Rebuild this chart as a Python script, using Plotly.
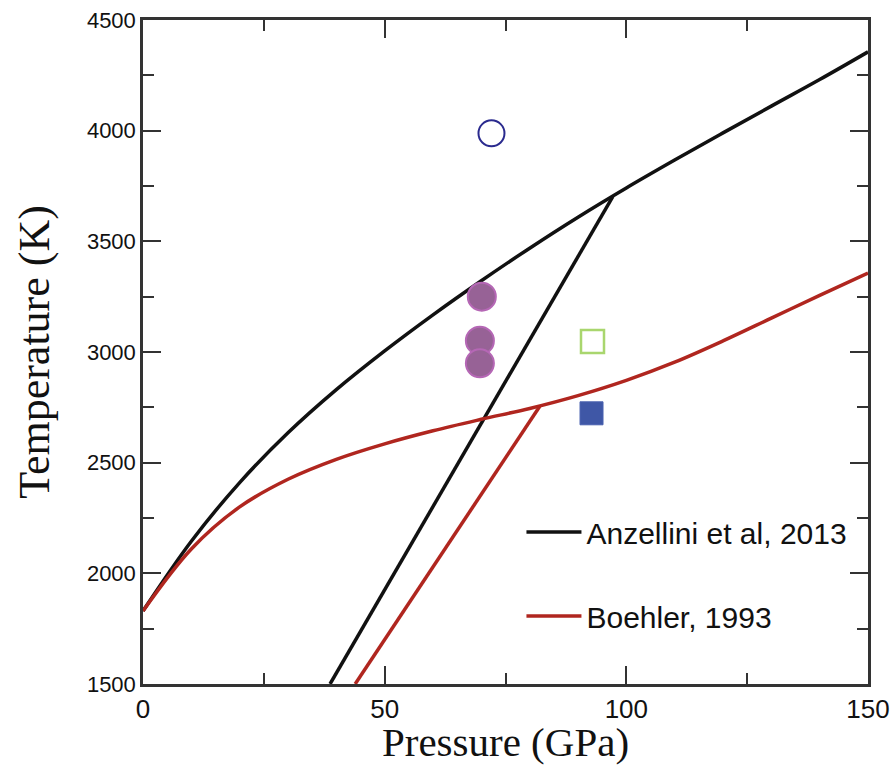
import plotly.graph_objects as go

# Melting curves
anz_p = [0, 10, 20, 30, 40, 50, 60, 70, 80, 90, 100, 110, 120, 130, 140, 150]
anz_t = [1830, 2145, 2410, 2635, 2830, 3005, 3168, 3322, 3469, 3609, 3741, 3867, 3990, 4111, 4231, 4356]

boe_p = [0, 10, 20, 30, 40, 50, 60, 70, 80, 90, 100, 110, 120, 130, 140, 150]
boe_t = [1830, 2110, 2300, 2425, 2515, 2585, 2644, 2696, 2745, 2803, 2872, 2954, 3050, 3153, 3256, 3357]

# Straight branches
anz_branch_p = [38.7, 97.2]
anz_branch_t = [1500, 3702]
boe_branch_p = [43.9, 82.1]
boe_branch_t = [1500, 2755]

# Experimental points
open_circle_p = [72.1]
open_circle_t = [3988]
purple_p = [70.1, 69.7, 69.7]
purple_t = [3250, 3051, 2949]
green_sq_p = [93.0]
green_sq_t = [3047]
blue_sq_p = [92.8]
blue_sq_t = [2723]

BLACK = "#111111"
RED = "#b0261f"

fig = go.Figure()

fig.add_trace(go.Scatter(x=anz_p, y=anz_t, mode="lines", name="Anzellini et al, 2013",
                         line=dict(color=BLACK, width=3.5, shape="spline", smoothing=1.0),
                         legendgroup="a"))
fig.add_trace(go.Scatter(x=anz_branch_p, y=anz_branch_t, mode="lines", showlegend=False,
                         line=dict(color=BLACK, width=3.5), legendgroup="a"))
fig.add_trace(go.Scatter(x=boe_p, y=boe_t, mode="lines", name="Boehler, 1993",
                         line=dict(color=RED, width=3.5, shape="spline", smoothing=1.0),
                         legendgroup="b"))
fig.add_trace(go.Scatter(x=boe_branch_p, y=boe_branch_t, mode="lines", showlegend=False,
                         line=dict(color=RED, width=3.5), legendgroup="b"))

fig.add_trace(go.Scatter(x=open_circle_p, y=open_circle_t, mode="markers", showlegend=False,
                         marker=dict(symbol="circle-open", size=26, color="#2a2a8e",
                                     line=dict(width=2, color="#2a2a8e"))))
fig.add_trace(go.Scatter(x=purple_p, y=purple_t, mode="markers", showlegend=False,
                         marker=dict(symbol="circle", size=28, color="#976296",
                                     line=dict(width=2, color="#b567b5"))))
fig.add_trace(go.Scatter(x=green_sq_p, y=green_sq_t, mode="markers", showlegend=False,
                         marker=dict(symbol="square-open", size=23, color="#a9d66e",
                                     line=dict(width=2.5, color="#a9d66e"))))
fig.add_trace(go.Scatter(x=blue_sq_p, y=blue_sq_t, mode="markers", showlegend=False,
                         marker=dict(symbol="square", size=23, color="#3f57a6",
                                     line=dict(width=1, color="#4a62b0"))))

axis_common = dict(
    showline=True, linecolor="#333333", linewidth=2.5, mirror="ticks",
    ticks="inside", ticklen=18, tickwidth=2, tickcolor="#333333",
    showgrid=False, zeroline=False, automargin=False,
)

fig.update_xaxes(
    range=[0, 150], tick0=0, dtick=50,
    minor=dict(ticks="inside", ticklen=11, tickwidth=2, tickcolor="#333333", dtick=25),
    tickfont=dict(family="Liberation Sans Narrow, Arial Narrow, sans-serif", size=26, color="#111"),
    title=dict(text="Pressure (GPa)", font=dict(family="Liberation Serif, Times New Roman, serif",
                                                 size=41, color="#111"), standoff=2),
    **axis_common,
)
fig.update_yaxes(
    range=[1500, 4500], tick0=1500, dtick=500,
    minor=dict(ticks="inside", ticklen=11, tickwidth=2, tickcolor="#333333", dtick=250),
    tickfont=dict(family="Liberation Sans, Arial, sans-serif", size=22, color="#111"),
    title=dict(text="Temperature (K)", font=dict(family="Liberation Serif, Times New Roman, serif",
                                                  size=44, color="#111"), standoff=24),
    **axis_common,
)

fig.update_layout(
    width=893, height=765,
    margin=dict(l=143, r=25, t=20, b=81),
    plot_bgcolor="white", paper_bgcolor="white",
    showlegend=True,
    legend=dict(x=0.522, y=0.268, xanchor="left", yanchor="top",
                bgcolor="rgba(0,0,0,0)", borderwidth=0,
                font=dict(family="Liberation Sans Narrow, Arial Narrow, sans-serif", size=30, color="#111"),
                tracegroupgap=42, itemwidth=55),
)

fig.write_html("out.html")
